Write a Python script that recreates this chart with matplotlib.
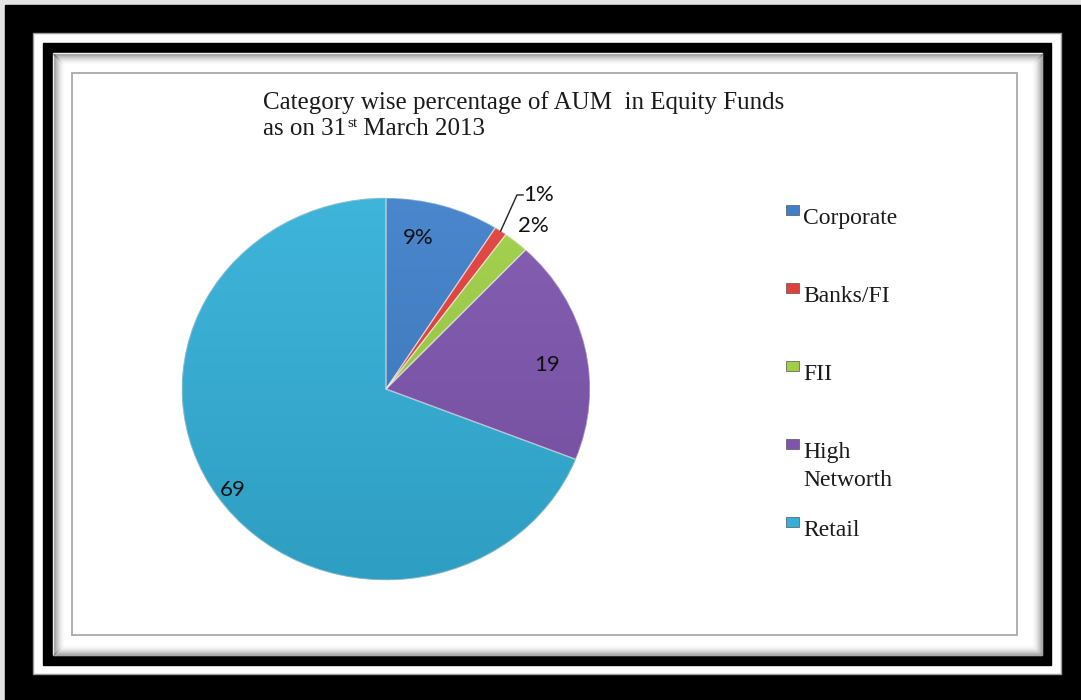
import numpy as np
import matplotlib.pyplot as plt
from matplotlib.patches import Rectangle, PathPatch
from matplotlib.colors import to_rgb

# AUM share by investor category (equity funds, 31 March 2013)
categories = ["Corporate", "Banks/FI", "FII", "High\nNetworth", "Retail"]
shares = [9, 1, 2, 19, 69]
value_labels = ["9%", "1%", "2%", "19", "69"]
colors = ["#3F7FC9", "#E2403A", "#9FCF45", "#7E55AE", "#33B0D8"]

title_line1 = "Category wise percentage of AUM  in Equity Funds"
title_line2 = ("as on 31", "st", " March 2013")

W, H = 1081, 700
fig = plt.figure(figsize=(W / 100, H / 100), dpi=100)
fig.patch.set_facecolor("#e4e4e4")

# background axes in pixel units for the frame, title and legend
bg = fig.add_axes([0, 0, 1, 1])
bg.set_xlim(0, W)
bg.set_ylim(H, 0)
bg.axis("off")


def box(x0, y0, x1, y1, **kw):
    bg.add_patch(Rectangle((x0, y0), x1 - x0, y1 - y0, **kw))


box(5, 5, W, H, color="black")
box(33, 33, 1061, 674, facecolor="white", edgecolor="#9a9a9a", lw=1)
box(43, 43, 1051, 665, color="black")
box(53, 53, 1042, 655, color="white")

# soft shadow just inside the inner black frame
n = 12
for i in range(n):
    a = 0.3 * (1 - i / n) ** 2.2
    bg.plot([53 + i, 1042 - i], [53 + i + 0.5] * 2, color="black", alpha=a, lw=1)
    bg.plot([53 + i + 0.5] * 2, [53 + i + 1, 655 - i - 1], color="black", alpha=a, lw=1)
    bg.plot([53 + i, 1042 - i], [655 - i - 0.5] * 2, color="black", alpha=a, lw=1)
    bg.plot([1042 - i - 0.5] * 2, [53 + i + 1, 655 - i - 1], color="black", alpha=a, lw=1)

box(72, 73, 1017, 635, facecolor="white", edgecolor="#a8a8a8", lw=1.3)

# title
serif = "Liberation Serif"
ink = "#1a1a1a"
bg.text(263, 109, title_line1, fontsize=18, family=serif, va="baseline", color=ink)
renderer = fig.canvas.get_renderer()
t1 = bg.text(263, 135, title_line2[0], fontsize=18, family=serif, va="baseline", color=ink)
x = t1.get_window_extent(renderer).x1 + 1
t2 = bg.text(x, 127, title_line2[1], fontsize=11, family=serif, va="baseline", color=ink)
x = t2.get_window_extent(renderer).x1
bg.text(x, 135, title_line2[2], fontsize=18, family=serif, va="baseline", color=ink)

# legend
for i, (name, c) in enumerate(zip(categories, colors)):
    top = 205 + i * 78
    box(786, top, 799, top + 10, facecolor=c, edgecolor="#555555", lw=0.5)
    for k, line in enumerate(name.split("\n")):
        bg.text(803, top + 19 + k * 28, line, fontsize=17, family=serif,
                va="baseline", color=ink)

# pie, drawn slightly elliptical
cx, cy, rx, ry = 386, 389, 204, 191
L = 1.06
ax = fig.add_axes([(cx - L * rx) / W, (H - cy - L * ry) / H,
                   2 * L * rx / W, 2 * L * ry / H])
wedges, _ = ax.pie(shares, colors=colors, startangle=90, counterclock=False,
                   radius=1, wedgeprops=dict(linewidth=0))

grad = np.linspace(0, 1, 256).reshape(-1, 1, 1)
for w, c in zip(wedges, colors):
    base = np.array(to_rgb(c))
    light = base + (1 - base) * 0.06
    dark = base * 0.9
    img = light * (1 - grad) + dark * grad
    img = np.repeat(img, 2, axis=1)
    im = ax.imshow(img, extent=(-1, 1, -1, 1), origin="upper", aspect="auto", zorder=2)
    im.set_clip_path(w)
    ax.add_patch(PathPatch(w.get_path(), transform=ax.transData, fill=False,
                           edgecolor=(1, 1, 1, 0.45), lw=0.9, zorder=3))
ax.add_patch(PathPatch(wedges[-1].get_path(), transform=ax.transData, fill=False,
                       edgecolor=(0.4, 0.4, 0.4, 0.25), lw=0.6, zorder=3))

ax.set_aspect("auto")
ax.set_xlim(-L, L)
ax.set_ylim(-L, L)
ax.axis("off")

# data labels
lab_font = dict(fontsize=16, family="Lato", color="#111111", zorder=5)
ax.text(0.16, 0.79, value_labels[0], ha="center", va="center", **lab_font)
ax.text(0.79, 0.125, value_labels[3], ha="center", va="center", **lab_font)
ax.text(-0.75, -0.53, value_labels[4], ha="center", va="center", **lab_font)

bounds = np.cumsum([0] + shares) / sum(shares)
mid = np.radians(90 - 360 * (bounds[1] + bounds[2]) / 2)
ax.plot([np.cos(mid), 0.642, 0.672], [np.sin(mid), 1.016, 1.016],
        color="#222222", lw=1, zorder=5, clip_on=False)
ax.text(0.672, 1.016, value_labels[1], ha="left", va="center", clip_on=False, **lab_font)
ax.text(0.645, 0.853, value_labels[2], ha="left", va="center", **lab_font)

fig.savefig("out.png", dpi=100, facecolor=fig.get_facecolor())
